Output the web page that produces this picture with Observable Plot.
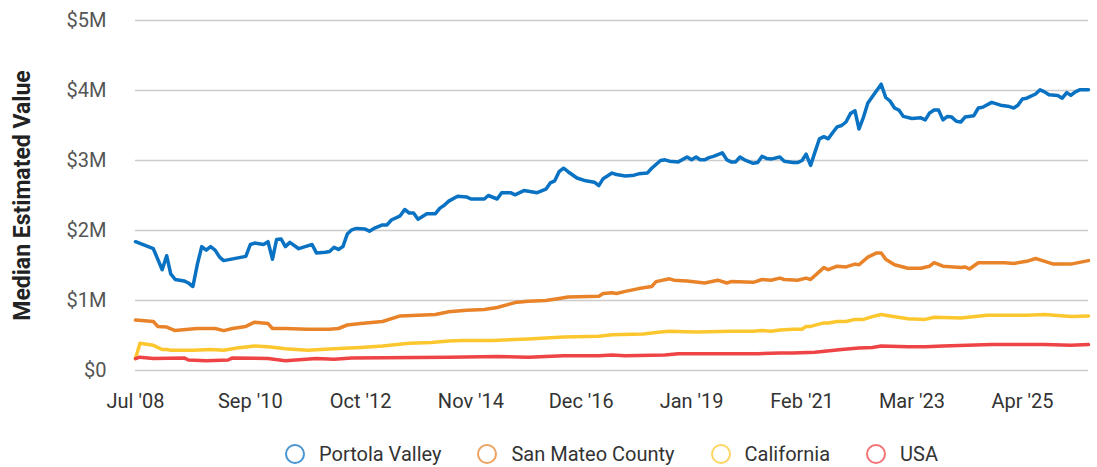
<!DOCTYPE html>
<html><head><meta charset="utf-8">
<script src="https://cdn.jsdelivr.net/npm/d3@7"></script>
<script src="https://cdn.jsdelivr.net/npm/@observablehq/plot@0.6"></script>
<style>
body{margin:0;background:#fff;font-family:Roboto,sans-serif;}
#legend{display:flex;justify-content:center;align-items:center;gap:36px;font-size:20px;color:#333;height:42px;margin-top:8px;padding-left:135px;padding-right:9px;box-sizing:border-box;width:1097px}
.item{display:flex;align-items:center;gap:14px}
.sw{width:20px;height:20px;border-radius:50%;border:2px solid;box-sizing:border-box;opacity:0.75}
</style></head><body><div id="chart"></div><div id="legend"></div>
<script>
const seriesNames = ["Portola Valley", "San Mateo County", "California", "USA"];
const seriesColors = ["#0a72c3", "#e8832a", "#fcc72e", "#ee4446"];
const yTitle = "Median Estimated Value";
const yTicks = [0, 1e6, 2e6, 3e6, 4e6, 5e6];
const yTickLabels = ["$0", "$1M", "$2M", "$3M", "$4M", "$5M"];
const xTickDates = ["2008-07", "2010-09", "2012-10", "2014-11", "2016-12", "2019-01", "2021-02", "2023-03", "2025-04"];
const xTickLabels = ["Jul '08", "Sep '10", "Oct '12", "Nov '14", "Dec '16", "Jan '19", "Feb '21", "Mar '23", "Apr '25"];
const xDomain = ["2008-07", "2026-07"];

// values in $M
const portolaValley = [
["2008-07",1.84],["2008-11",1.74],["2009-01",1.44],["2009-02",1.64],["2009-03",1.38],["2009-04",1.30],
["2009-06",1.28],["2009-07",1.25],["2009-08",1.20],["2009-09",1.52],["2009-10",1.77],["2009-11",1.72],
["2009-12",1.77],["2010-01",1.72],["2010-02",1.62],["2010-03",1.57],["2010-08",1.63],["2010-09",1.80],
["2010-10",1.82],["2010-12",1.80],["2011-01",1.84],["2011-02",1.59],["2011-03",1.87],["2011-04",1.88],
["2011-05",1.77],["2011-06",1.83],["2011-08",1.74],["2011-10",1.78],["2011-11",1.80],["2011-12",1.68],
["2012-02",1.69],["2012-03",1.70],["2012-04",1.76],["2012-05",1.73],["2012-06",1.77],["2012-07",1.95],
["2012-08",2.01],["2012-09",2.03],["2012-11",2.02],["2012-12",1.99],["2013-01",2.03],["2013-03",2.08],
["2013-04",2.08],["2013-05",2.15],["2013-07",2.21],["2013-08",2.30],["2013-09",2.25],["2013-10",2.25],
["2013-11",2.16],["2014-01",2.24],["2014-03",2.24],["2014-04",2.32],["2014-05",2.36],["2014-06",2.42],
["2014-08",2.49],["2014-10",2.48],["2014-11",2.45],["2015-02",2.45],["2015-03",2.50],["2015-05",2.45],
["2015-06",2.54],["2015-08",2.54],["2015-09",2.51],["2015-11",2.57],["2016-02",2.54],["2016-04",2.59],
["2016-05",2.68],["2016-06",2.71],["2016-07",2.84],["2016-08",2.89],["2016-09",2.84],["2016-11",2.75],
["2017-01",2.71],["2017-03",2.69],["2017-04",2.64],["2017-05",2.74],["2017-07",2.82],["2017-08",2.80],
["2017-10",2.78],["2017-12",2.79],["2018-01",2.81],["2018-03",2.82],["2018-04",2.89],["2018-06",3.00],
["2018-07",3.01],["2018-08",2.99],["2018-10",2.98],["2018-12",3.05],["2019-01",3.01],["2019-02",3.05],
["2019-03",3.01],["2019-04",3.01],["2019-05",3.04],["2019-06",3.06],["2019-08",3.11],["2019-09",3.01],
["2019-10",2.98],["2019-11",2.98],["2019-12",3.05],["2020-01",3.01],["2020-03",2.96],["2020-04",2.97],
["2020-05",3.06],["2020-06",3.03],["2020-07",3.02],["2020-09",3.05],["2020-10",2.99],["2020-12",2.97],
["2021-01",2.97],["2021-02",3.00],["2021-03",3.09],["2021-04",2.93],["2021-05",3.12],["2021-06",3.31],
["2021-07",3.34],["2021-08",3.31],["2021-09",3.40],["2021-10",3.48],["2021-11",3.50],["2021-12",3.55],
["2022-01",3.67],["2022-02",3.71],["2022-03",3.45],["2022-04",3.62],["2022-05",3.82],["2022-07",4.00],
["2022-08",4.09],["2022-09",3.90],["2022-10",3.85],["2022-11",3.75],["2022-12",3.72],["2023-01",3.63],
["2023-03",3.60],["2023-05",3.61],["2023-06",3.58],["2023-07",3.68],["2023-08",3.72],["2023-09",3.72],
["2023-10",3.58],["2023-11",3.63],["2023-12",3.62],["2024-01",3.56],["2024-02",3.55],["2024-03",3.62],
["2024-05",3.64],["2024-06",3.75],["2024-07",3.76],["2024-09",3.83],["2024-11",3.79],["2025-01",3.77],
["2025-02",3.75],["2025-03",3.79],["2025-04",3.88],["2025-05",3.89],["2025-07",3.95],["2025-08",4.01],
["2025-09",3.98],["2025-10",3.94],["2025-12",3.93],["2026-01",3.89],["2026-02",3.97],["2026-03",3.93],
["2026-04",3.98],["2026-05",4.01],["2026-07",4.01]
];
const sanMateoCounty = [
["2008-07",0.72],["2008-11",0.70],["2008-12",0.63],["2009-02",0.62],["2009-04",0.57],["2009-07",0.59],
["2009-09",0.60],["2010-01",0.60],["2010-03",0.57],["2010-05",0.60],["2010-08",0.63],["2010-10",0.69],
["2011-01",0.67],["2011-02",0.60],["2011-05",0.60],["2011-10",0.59],["2012-03",0.59],["2012-05",0.60],
["2012-07",0.65],["2012-10",0.67],["2013-03",0.70],["2013-07",0.78],["2013-11",0.79],["2014-03",0.80],
["2014-06",0.84],["2014-10",0.86],["2015-02",0.87],["2015-05",0.90],["2015-09",0.97],["2015-12",0.99],
["2016-04",1.00],["2016-07",1.03],["2016-09",1.05],["2017-04",1.06],["2017-05",1.10],["2017-07",1.11],
["2017-08",1.10],["2017-10",1.13],["2018-01",1.17],["2018-04",1.20],["2018-05",1.27],["2018-08",1.31],
["2018-09",1.29],["2018-12",1.28],["2019-04",1.25],["2019-07",1.29],["2019-09",1.25],["2019-10",1.27],
["2020-03",1.26],["2020-05",1.30],["2020-07",1.29],["2020-09",1.32],["2020-10",1.30],["2021-01",1.29],
["2021-03",1.32],["2021-04",1.30],["2021-07",1.47],["2021-08",1.44],["2021-10",1.49],["2021-12",1.48],
["2022-02",1.52],["2022-03",1.51],["2022-05",1.62],["2022-07",1.68],["2022-08",1.68],["2022-09",1.59],
["2022-11",1.51],["2023-02",1.46],["2023-05",1.46],["2023-07",1.49],["2023-08",1.54],["2023-10",1.49],
["2024-02",1.47],["2024-03",1.48],["2024-04",1.45],["2024-06",1.54],["2024-09",1.54],["2024-12",1.54],
["2025-02",1.53],["2025-05",1.56],["2025-07",1.60],["2025-08",1.58],["2025-11",1.52],["2026-03",1.52],
["2026-07",1.57]
];
const california = [
["2008-07",0.17],["2008-08",0.39],["2008-11",0.36],["2009-01",0.30],["2009-02",0.30],["2009-03",0.29],
["2009-08",0.29],["2009-12",0.30],["2010-03",0.29],["2010-06",0.32],["2010-10",0.35],["2011-01",0.34],
["2011-05",0.31],["2011-10",0.29],["2012-04",0.31],["2012-10",0.33],["2013-03",0.35],["2013-09",0.39],
["2014-02",0.40],["2014-06",0.42],["2014-09",0.43],["2015-04",0.43],["2015-12",0.45],["2016-08",0.48],
["2017-04",0.49],["2017-07",0.51],["2018-02",0.52],["2018-06",0.55],["2018-08",0.56],["2019-02",0.55],
["2019-10",0.56],["2020-03",0.56],["2020-05",0.57],["2020-07",0.56],["2020-09",0.58],["2020-12",0.59],
["2021-02",0.59],["2021-03",0.63],["2021-04",0.63],["2021-07",0.68],["2021-08",0.68],["2021-10",0.70],
["2021-12",0.70],["2022-02",0.73],["2022-04",0.73],["2022-06",0.77],["2022-08",0.80],["2022-10",0.78],
["2023-02",0.74],["2023-06",0.73],["2023-08",0.76],["2024-02",0.75],["2024-08",0.79],["2025-05",0.79],
["2025-09",0.80],["2026-03",0.77],["2026-07",0.78]
];
const usa = [
["2008-07",0.17],["2008-08",0.19],["2008-11",0.17],["2009-06",0.18],["2009-07",0.15],["2009-11",0.14],
["2010-04",0.15],["2010-05",0.18],["2011-01",0.17],["2011-05",0.14],["2011-12",0.17],["2012-04",0.16],
["2012-08",0.18],["2014-06",0.19],["2015-05",0.20],["2015-12",0.19],["2016-08",0.21],["2017-04",0.21],
["2017-07",0.22],["2017-10",0.21],["2018-07",0.22],["2018-10",0.24],["2020-04",0.24],["2020-09",0.25],
["2020-12",0.25],["2021-05",0.26],["2021-11",0.30],["2022-03",0.32],["2022-06",0.33],["2022-08",0.35],
["2023-02",0.34],["2023-06",0.34],["2023-10",0.35],["2024-09",0.37],["2025-09",0.37],["2026-03",0.36],
["2026-07",0.37]
];

const parse = d3.utcParse("%Y-%m");
const allSeries = [portolaValley, sanMateoCounty, california, usa];
const data = allSeries.flatMap((s, i) => s.map(([d, v]) => ({series: seriesNames[i], date: parse(d), value: v * 1e6})));
const xTicks = xTickDates.map(parse);
const xKey = xTicks.map(d => +d);

const chart = Plot.plot({
  width: 1097, height: 425,
  marginTop: 20, marginRight: 9, marginBottom: 55, marginLeft: 135,
  style: {fontFamily: "Roboto, sans-serif", fontSize: "20px", background: "#fff", overflow: "visible"},
  x: {type: "utc", domain: xDomain.map(parse)},
  y: {domain: [0, 5e6]},
  color: {domain: seriesNames, range: seriesColors},
  marks: [
    Plot.gridY(yTicks, {stroke: "#cccccc", strokeOpacity: 1, strokeWidth: 1.5}),
    Plot.axisY(yTicks, {tickSize: 0, tickPadding: 29, label: null, fill: "#555", tickFormat: d => yTickLabels[yTicks.indexOf(d)]}),
    Plot.axisX(xTicks, {tickSize: 0, tickPadding: 23, label: null, fill: "#333", tickFormat: d => xTickLabels[xKey.indexOf(+d)]}),
    Plot.lineY(data, {x: "date", y: "value", z: "series", stroke: "series", strokeWidth: 3.5, strokeLinejoin: "round", strokeLinecap: "round"}),
    Plot.text([yTitle], {text: d => d, frameAnchor: "left", textAnchor: "middle", dx: -113, rotate: -90, fontSize: 23, fontWeight: "bold", fill: "#222"})
  ]
});
document.getElementById("chart").appendChild(chart);

const legend = document.getElementById("legend");
seriesNames.forEach((n, i) => {
  const it = document.createElement("div"); it.className = "item";
  const sw = document.createElement("span"); sw.className = "sw"; sw.style.borderColor = seriesColors[i];
  const tx = document.createElement("span"); tx.textContent = n;
  it.appendChild(sw); it.appendChild(tx); legend.appendChild(it);
});
</script></body></html>
